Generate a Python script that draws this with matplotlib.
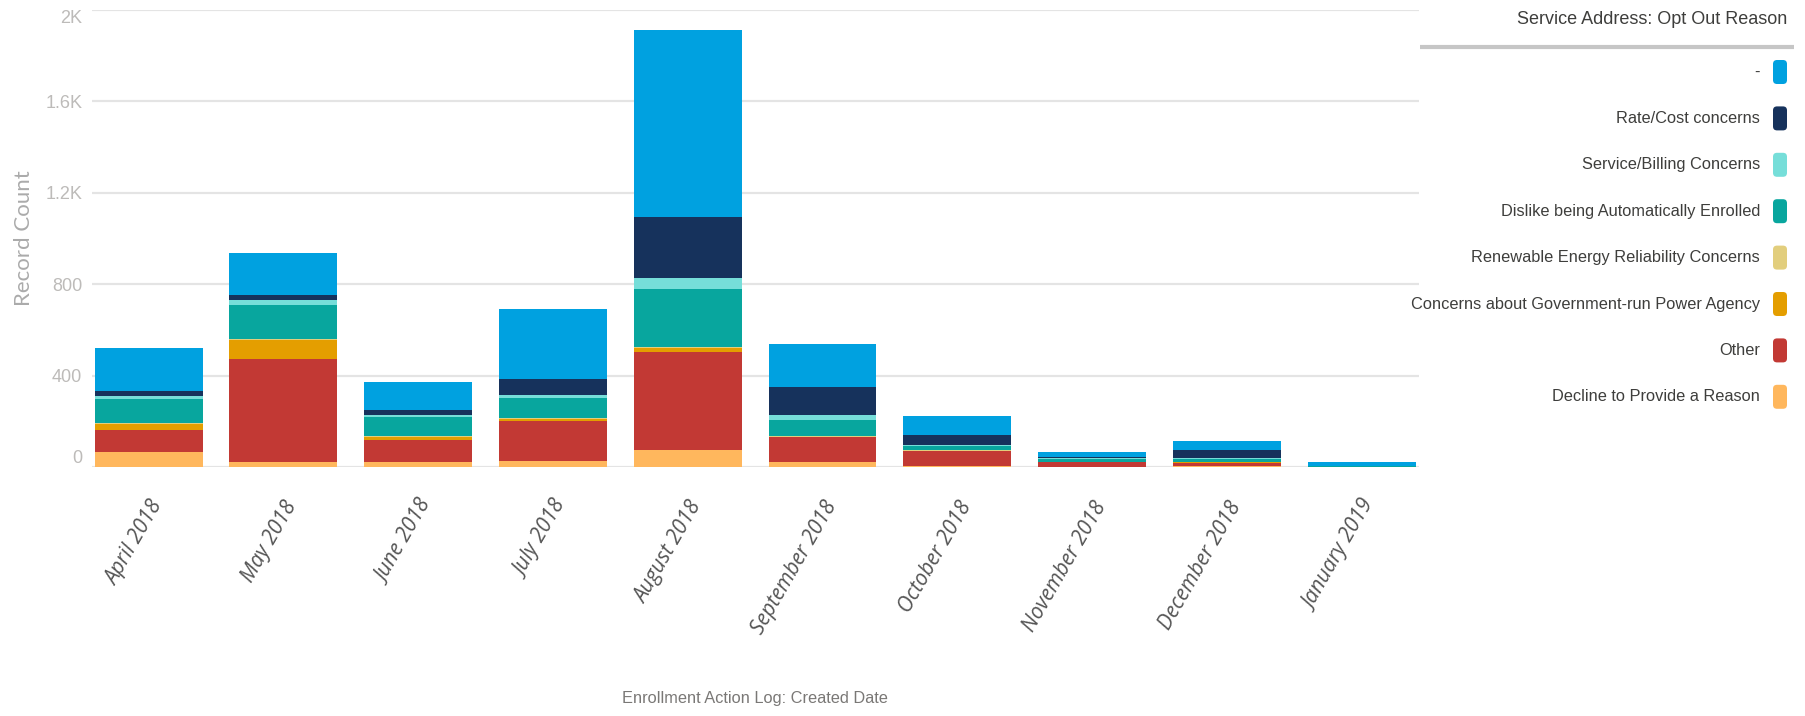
import numpy as np
import matplotlib.pyplot as plt
from matplotlib.patches import FancyBboxPatch

# 月份
months = ["April 2018", "May 2018", "June 2018", "July 2018", "August 2018",
          "September 2018", "October 2018", "November 2018", "December 2018", "January 2019"]

# 各退出原因的记录数 (从下往上堆叠)
decline = [67, 23, 23, 28, 74, 21, 5, 2, 5, 1]
other = [95, 448, 95, 175, 431, 110, 66, 18, 12, 1]
govt = [26, 85, 12, 6, 15, 2, 1, 1, 5, 0]
renewable = [3, 3, 6, 4, 6, 2, 1, 0, 1, 0]
dislike = [105, 150, 84, 88, 252, 71, 17, 16, 14, 2]
service = [15, 22, 8, 14, 48, 20, 5, 3, 3, 0]
rate = [22, 22, 21, 70, 269, 126, 47, 3, 35, 2]
blank = [189, 182, 124, 305, 817, 187, 83, 21, 38, 17]

labels = ["Decline to Provide a Reason", "Other", "Concerns about Government-run Power Agency",
          "Renewable Energy Reliability Concerns", "Dislike being Automatically Enrolled",
          "Service/Billing Concerns", "Rate/Cost concerns", "-"]
colors = ["#ffb75d", "#c23934", "#e49e00", "#e2ce7d", "#08a69e", "#76ded9", "#16325c", "#00a1e0"]
series = [decline, other, govt, renewable, dislike, service, rate, blank]

narrow = ["Liberation Sans", "DejaVu Sans"]

fig = plt.figure(figsize=(18.06, 7.16), dpi=100)
W, H = 1806, 716
ax = fig.add_axes([92 / W, 1 - 467 / H, (1419 - 92) / W, (467 - 10) / H])

x = np.arange(len(months))
bottom = np.zeros(len(months))
for vals, c, lab in zip(series, colors, labels):
    ax.bar(x, vals, 0.8, bottom=bottom, color=c, label=lab, zorder=3)
    bottom += np.array(vals)

ax.set_xlim(-0.42, 9.425)
ax.set_ylim(0, 2000)
yt = [0, 400, 800, 1200, 1600, 2000]
ax.set_yticks(yt)
ax.set_yticklabels(["0", "400", "800", "1.2K", "1.6K", "2K"], family=narrow, fontsize=13, color="#bdbbb9")
ax.get_yticklabels()[0].set_va("bottom")
ax.get_yticklabels()[-1].set_va("top")
ax.grid(axis="y", color="#e4e4e4", lw=1.6, zorder=0)
for s in ax.spines.values():
    s.set_visible(False)
ax.tick_params(axis="y", length=0, pad=7)
ax.tick_params(axis="x", length=0, pad=22)
ax.set_xticks(x)
ax.set_xticklabels(months, rotation=60, ha="right", va="top", rotation_mode="anchor",
                   family=["Open Sans", "DejaVu Sans"], style="italic", fontsize=15, color="#555555")
ax.set_ylabel("Record Count", family=["Lato", "DejaVu Sans"], fontsize=16, color="#ababab")
ax.yaxis.set_label_coords(-58 / 1327, 0.5)

# 图例画在像素坐标的覆盖层上
ov = fig.add_axes([0, 0, 1, 1], zorder=5)
ov.set_xlim(0, W)
ov.set_ylim(H, 0)
ov.axis("off")
ov.text(755, 699, "Enrollment Action Log: Created Date", ha="center", va="center",
        family=narrow, fontsize=11.8, color="#7a7876")
ov.text(1787, 20, "Service Address: Opt Out Reason", ha="right", va="center",
        family=narrow, fontsize=13, color="#3e3e3c")
ov.plot([1420, 1794], [47, 47], color="#c6c6c6", lw=3, solid_capstyle="butt")
for i, (lab, c) in enumerate(zip(labels[::-1], colors[::-1])):
    yc = 72 + i * 46.4
    ov.text(1760, yc, lab, ha="right", va="center", family=narrow, fontsize=11.8, color="#3e3e3c")
    ov.add_patch(FancyBboxPatch((1773, yc - 12), 14, 24, boxstyle="round,pad=0,rounding_size=4",
                                fc=c, ec="none"))

fig.savefig("out.png", dpi=100)
